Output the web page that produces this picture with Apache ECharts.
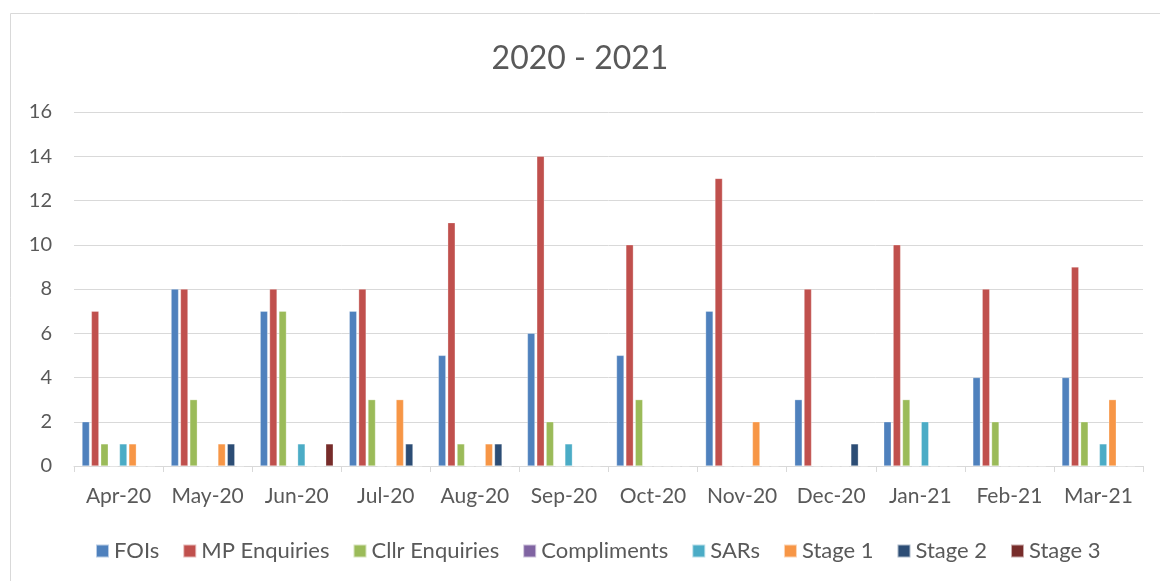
<!DOCTYPE html>
<html>
<head>
<meta charset="utf-8">
<script src="https://cdn.jsdelivr.net/npm/echarts@6/dist/echarts.min.js"></script>
<style>html,body{margin:0;padding:0;background:#fff}#c{width:1160px;height:581px}</style>
</head>
<body>
<div id="c"></div>
<script>
const categories = ['Apr-20','May-20','Jun-20','Jul-20','Aug-20','Sep-20','Oct-20','Nov-20','Dec-20','Jan-21','Feb-21','Mar-21'];
const fois        = [2, 8, 7, 7, 5, 6, 5, 7, 3, 2, 4, 4];
const mpEnquiries = [7, 8, 8, 8, 11, 14, 10, 13, 8, 10, 8, 9];
const cllrEnquiries = [1, 3, 7, 3, 1, 2, 3, 0, 0, 3, 2, 2];
const compliments = [0, 0, 0, 0, 0, 0, 0, 0, 0, 0, 0, 0];
const sars        = [1, 0, 1, 0, 0, 1, 0, 0, 0, 2, 0, 1];
const stage1      = [1, 1, 0, 3, 1, 0, 0, 2, 0, 0, 0, 3];
const stage2      = [0, 1, 0, 1, 1, 0, 0, 0, 1, 0, 0, 0];
const stage3      = [0, 0, 1, 0, 0, 0, 0, 0, 0, 0, 0, 0];
const yTicks = [0, 2, 4, 6, 8, 10, 12, 14, 16];

const seriesDefs = [
  ['FOIs', fois, '#4f81bd'],
  ['MP Enquiries', mpEnquiries, '#c0504d'],
  ['Cllr Enquiries', cllrEnquiries, '#9bbb59'],
  ['Compliments', compliments, '#8064a2'],
  ['SARs', sars, '#4bacc6'],
  ['Stage 1', stage1, '#f79646'],
  ['Stage 2', stage2, '#2c4d75'],
  ['Stage 3', stage3, '#772c2a']
];
const font = 'Lato, "Open Sans", sans-serif';
const chart = echarts.init(document.getElementById('c'));
chart.setOption({
  animation: false,
  textStyle: {fontFamily: font},
  graphic: [{type:'rect', shape:{x:10.5,y:13.5,width:1160,height:600}, style:{fill:'none', stroke:'#d9d9d9', lineWidth:1}, silent:true}],
  title: {text:'2020 - 2021', left:'center', top:38, textStyle:{fontFamily:font, fontSize:32, fontWeight:'normal', color:'#595959'}},
  legend: {top:535, left:90, itemWidth:13, itemHeight:13, itemGap:23, icon:'rect',
    textStyle:{fontFamily:font, fontSize:22, color:'#595959'},
    data: seriesDefs.map(s=>s[0])},
  grid: {left:74, right:17, top:112, bottom:115},
  xAxis: {type:'category', data:categories,
    axisLine:{lineStyle:{color:'#d9d9d9'}},
    axisTick:{show:true, length:6, lineStyle:{color:'#d9d9d9'}},
    axisLabel:{interval:0, fontSize:21, color:'#595959', margin:20, fontFamily:font}},
  yAxis: {type:'value', min:yTicks[0], max:yTicks[yTicks.length-1], interval:2,
    axisLine:{show:false}, axisTick:{show:false},
    splitLine:{lineStyle:{color:'#d9d9d9', width:1}},
    axisLabel:{fontSize:20, color:'#595959', margin:22, fontFamily:font}},
  series: seriesDefs.map(s => ({
    name:s[0], type:'bar', data:s[1], barGap:'25%', barCategoryGap:'18%',
    itemStyle:{color:s[2], borderColor:'rgba(255,255,255,0.6)', borderWidth:0.5}
  }))
});
</script>
</body>
</html>
